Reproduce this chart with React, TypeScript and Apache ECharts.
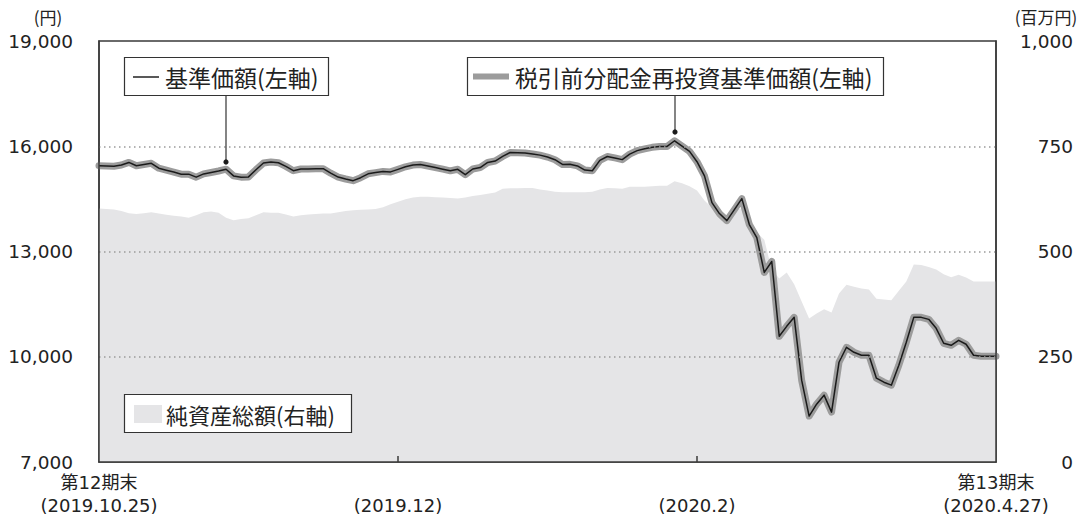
import React, { useEffect, useRef } from "react";
import * as echarts from "echarts";

// 基準価額（円）
const basePrice: number[] = [
  15445, 15437, 15431, 15465, 15539, 15443, 15480, 15514, 15374, 15318,
  15264, 15204, 15204, 15119, 15212, 15252, 15295, 15346, 15155, 15119,
  15127, 15332, 15522, 15551, 15531, 15426, 15303, 15352, 15355, 15358,
  15360, 15232, 15121, 15067, 15019, 15104, 15215, 15249, 15283, 15269,
  15340, 15414, 15463, 15480, 15437, 15392, 15346, 15300, 15343, 15190,
  15352, 15394, 15537, 15579, 15710, 15821, 15815, 15810, 15781, 15747,
  15693, 15616, 15482, 15485, 15440, 15320, 15303, 15596, 15707, 15667,
  15619, 15775, 15875, 15926, 15969, 15994, 15994, 16156, 16003, 15855,
  15559, 15155, 14393, 14081, 13881, 14194, 14507, 13768, 13398, 12403,
  12716, 10583, 10867, 11123, 9332, 8310, 8649, 8905, 8422, 9844,
  10270, 10128, 10043, 10043, 9389, 9275, 9190, 9758, 10412, 11123,
  11123, 11066, 10810, 10384, 10327, 10469, 10356, 10043, 10014, 10014,
  10014,
];

// 税引前分配金再投資基準価額（円）— no distributions in the period, identical to basePrice
const reinvestedPrice: number[] = [
  15445, 15437, 15431, 15465, 15539, 15443, 15480, 15514, 15374, 15318,
  15264, 15204, 15204, 15119, 15212, 15252, 15295, 15346, 15155, 15119,
  15127, 15332, 15522, 15551, 15531, 15426, 15303, 15352, 15355, 15358,
  15360, 15232, 15121, 15067, 15019, 15104, 15215, 15249, 15283, 15269,
  15340, 15414, 15463, 15480, 15437, 15392, 15346, 15300, 15343, 15190,
  15352, 15394, 15537, 15579, 15710, 15821, 15815, 15810, 15781, 15747,
  15693, 15616, 15482, 15485, 15440, 15320, 15303, 15596, 15707, 15667,
  15619, 15775, 15875, 15926, 15969, 15994, 15994, 16156, 16003, 15855,
  15559, 15155, 14393, 14081, 13881, 14194, 14507, 13768, 13398, 12403,
  12716, 10583, 10867, 11123, 9332, 8310, 8649, 8905, 8422, 9844,
  10270, 10128, 10043, 10043, 9389, 9275, 9190, 9758, 10412, 11123,
  11123, 11066, 10810, 10384, 10327, 10469, 10356, 10043, 10014, 10014,
  10014,
];

// 純資産総額（百万円）
const netAssets: number[] = [
  602, 601, 600, 596, 591, 589, 591, 593, 590, 587,
  585, 583, 580, 586, 593, 595, 592, 580, 574, 577,
  579, 586, 593, 592, 592, 588, 583, 586, 588, 589,
  590, 590, 593, 596, 598, 599, 600, 601, 605, 612,
  618, 624, 628, 630, 630, 629, 628, 627, 626, 628,
  632, 634, 637, 640, 649, 650, 650, 651, 651, 647,
  645, 642, 641, 641, 641, 641, 642, 647, 651, 650,
  649, 654, 654, 654, 655, 656, 656, 667, 662, 655,
  645, 621, 604, 583, 585, 600, 602, 571, 545, 528,
  457, 436, 450, 422, 381, 341, 353, 363, 355, 400,
  421, 416, 412, 410, 388, 386, 384, 407, 429, 469,
  468, 463, 457, 446, 439, 445, 438, 429, 429, 429,
  429,
];

const days: string[] = basePrice.map((_, i) => String(i));

// x-axis tick labels
const tickIndex: number[] = [0, 40, 80, 120];
const tickTop: string[] = ["第12期末", " ", " ", "第13期末"];
const tickBottom: string[] = ["(2019.10.25)", "(2019.12)", "(2020.2)", "(2020.4.27)"];
const innerTickIndex: number[] = [40, 80];

const FONT = "'Noto Sans CJK JP', 'Noto Sans', sans-serif";
const NUMFONT = "'DejaVu Sans', 'Noto Sans CJK JP', sans-serif";
const TXT = "#222222";

export default function App() {
  const ref = useRef<HTMLDivElement>(null);

  useEffect(() => {
    if (!ref.current) return;
    const chart = echarts.init(ref.current, undefined, { renderer: "svg" });

    const option: any = {
      animation: false,
      backgroundColor: "#ffffff",
      textStyle: { fontFamily: FONT, color: TXT },
      grid: {
        left: 99,
        right: 91,
        top: 41,
        bottom: 54,
        show: true,
        borderColor: "#3a3a3a",
        borderWidth: 1.5,
        backgroundColor: "transparent",
      },
      xAxis: {
        type: "category",
        data: days,
        boundaryGap: false,
        z: 5,
        axisLine: { show: true, lineStyle: { color: "#3a3a3a", width: 1.5 } },
        axisTick: {
          show: true,
          inside: true,
          length: 6,
          interval: (i: number) => innerTickIndex.includes(i),
          lineStyle: { color: "#3a3a3a", width: 1.5 },
        },
        axisLabel: {
          show: true,
          interval: (i: number) => tickIndex.includes(i),
          showMinLabel: true,
          showMaxLabel: true,
          margin: 9,
          fontSize: 18,
          lineHeight: 23,
          color: TXT,
          fontFamily: NUMFONT,
          formatter: (_v: string, i: number) => {
            const k = tickIndex.indexOf(i);
            if (k < 0) return "";
            return tickTop[k] + "\n" + tickBottom[k];
          },
        },
        splitLine: { show: false },
      },
      yAxis: [
        {
          type: "value",
          min: 7000,
          max: 19000,
          alignTicks: true,
          position: "left",
          z: 5,
          axisLine: { show: true, lineStyle: { color: "#3a3a3a", width: 1.5 } },
          axisTick: { show: false },
          axisLabel: {
            margin: 26,
            fontSize: 18.5,
            color: TXT,
            fontFamily: NUMFONT,
            formatter: (v: number) => v.toLocaleString("en-US"),
          },
          splitLine: {
            show: true,
            showMinLine: false,
            showMaxLine: false,
            lineStyle: { color: "#9a9a9a", width: 1.5, type: [1.5, 3.5] },
          },
        },
        {
          type: "value",
          min: 0,
          max: 1000,
          interval: 250,
          position: "right",
          z: 5,
          axisLine: { show: true, lineStyle: { color: "#3a3a3a", width: 1.5 } },
          axisTick: { show: false },
          axisLabel: {
            margin: 77,
            align: "right",
            fontSize: 18.5,
            color: TXT,
            fontFamily: NUMFONT,
            formatter: (v: number) => v.toLocaleString("en-US"),
          },
          splitLine: { show: false },
        },
      ],
      series: [
        {
          name: "純資産総額(右軸)",
          type: "line",
          yAxisIndex: 1,
          data: netAssets,
          symbol: "none",
          silent: true,
          z: 1,
          lineStyle: { width: 0 },
          areaStyle: { color: "#e5e5e7", opacity: 1 },
        },
        {
          name: "税引前分配金再投資基準価額(左軸)",
          type: "line",
          yAxisIndex: 0,
          data: reinvestedPrice,
          symbol: "none",
          silent: true,
          z: 2,
          lineStyle: { color: "#9c9c9c", width: 7, cap: "round", join: "round" },
        },
        {
          name: "基準価額(左軸)",
          type: "line",
          yAxisIndex: 0,
          data: basePrice,
          symbol: "none",
          silent: true,
          z: 3,
          lineStyle: { color: "#1a1a1a", width: 1.5, join: "round" },
        },
      ],
      graphic: [
        // unit labels
        {
          type: "text", x: 48, y: 16, z: 100,
          style: { text: "(円)", fontSize: 17, fontFamily: FONT, fill: TXT, align: "center", verticalAlign: "middle" },
        },
        {
          type: "text", x: 1046, y: 16, z: 100,
          style: { text: "(百万円)", fontSize: 17, fontFamily: FONT, fill: TXT, align: "center", verticalAlign: "middle" },
        },
        // legend 1
        { type: "line", z: 100, shape: { x1: 226, y1: 96, x2: 226, y2: 162 }, style: { stroke: "#333", lineWidth: 1.2 } },
        { type: "circle", z: 101, shape: { cx: 226, cy: 162, r: 2.6 }, style: { fill: "#1a1a1a" } },
        { type: "rect", z: 100, shape: { x: 124.5, y: 57.5, width: 204, height: 38 }, style: { fill: "#fff", stroke: "#333", lineWidth: 1.2 } },
        { type: "line", z: 101, shape: { x1: 133, y1: 77, x2: 159, y2: 77 }, style: { stroke: "#222", lineWidth: 1.5 } },
        {
          type: "text", x: 165, y: 77, z: 101,
          style: { text: "基準価額(左軸)", fontSize: 23, fontFamily: FONT, fill: TXT, verticalAlign: "middle" },
        },
        // legend 2
        { type: "line", z: 100, shape: { x1: 675, y1: 96, x2: 675, y2: 132 }, style: { stroke: "#333", lineWidth: 1.2 } },
        { type: "circle", z: 101, shape: { cx: 675, cy: 132, r: 2.6 }, style: { fill: "#1a1a1a" } },
        { type: "rect", z: 100, shape: { x: 467.5, y: 57.5, width: 416, height: 38 }, style: { fill: "#fff", stroke: "#333", lineWidth: 1.2 } },
        { type: "line", z: 101, shape: { x1: 473, y1: 76.5, x2: 509, y2: 76.5 }, style: { stroke: "#9c9c9c", lineWidth: 6 } },
        {
          type: "text", x: 515, y: 77, z: 101,
          style: { text: "税引前分配金再投資基準価額(左軸)", fontSize: 22.8, fontFamily: FONT, fill: TXT, verticalAlign: "middle" },
        },
        // legend 3
        { type: "rect", z: 100, shape: { x: 124.5, y: 394.5, width: 227, height: 38 }, style: { fill: "#fff", stroke: "#333", lineWidth: 1.2 } },
        { type: "rect", z: 101, shape: { x: 134, y: 405, width: 28, height: 18 }, style: { fill: "#e5e5e7" } },
        {
          type: "text", x: 166, y: 414, z: 101,
          style: { text: "純資産総額(右軸)", fontSize: 22, fontFamily: FONT, fill: TXT, verticalAlign: "middle" },
        },
      ],
    };

    chart.setOption(option);
    return () => chart.dispose();
  }, []);

  return (
    <div
      ref={ref}
      style={{ position: "absolute", left: 0, top: 0, width: 1087, height: 517 }}
    />
  );
}
